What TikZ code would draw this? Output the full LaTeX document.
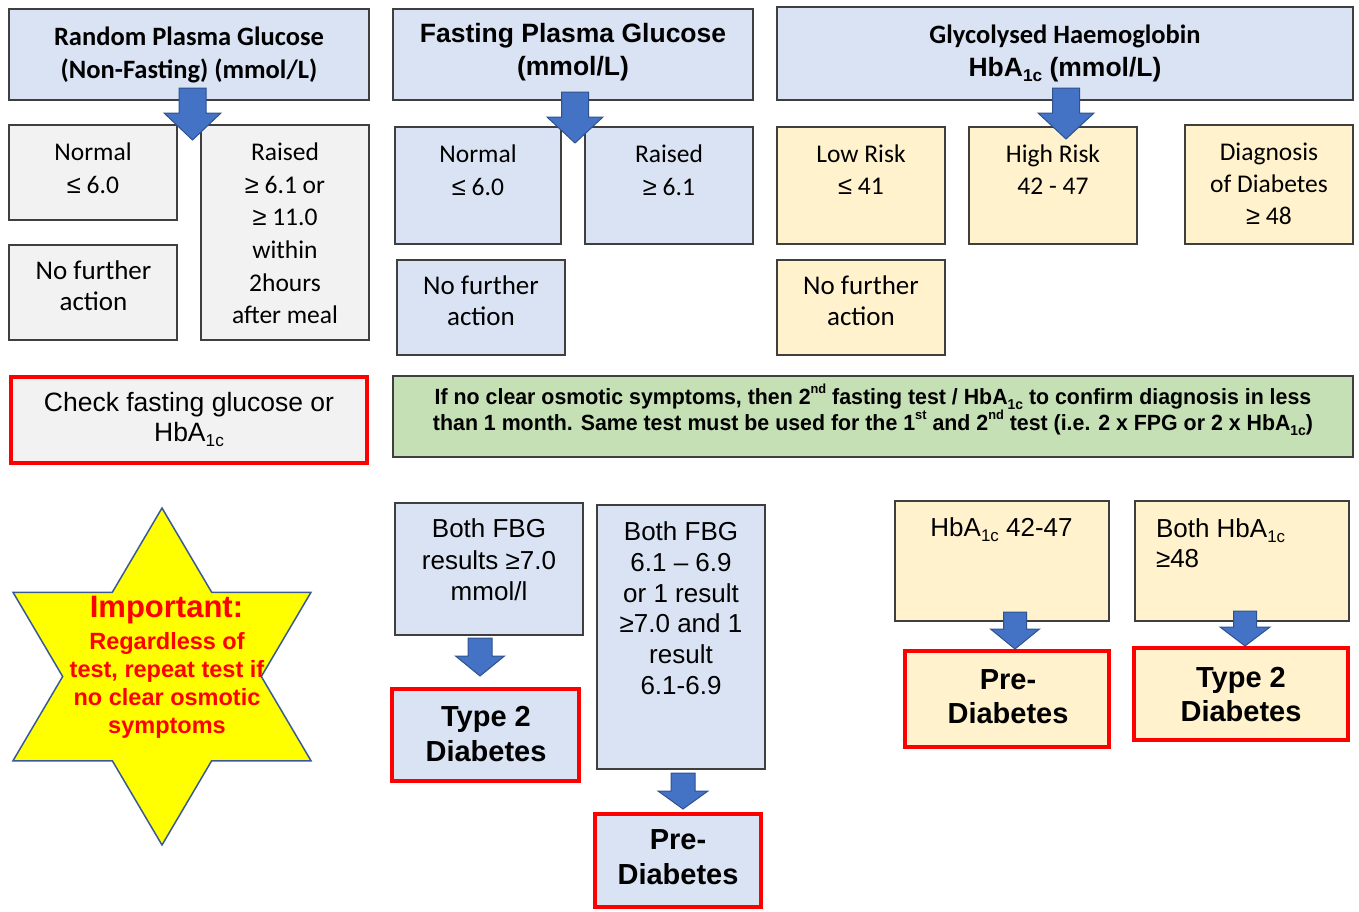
\documentclass[tikz,border=0pt]{standalone}
\usepackage{fontspec}
\setmainfont{Liberation Sans}
\newfontfamily\calib{Carlito}
\newfontfamily\arialf{Liberation Sans}
\newfontfamily\narrowf[FakeStretch=0.97]{Liberation Sans}
\usetikzlibrary{calc}
\definecolor{blueF}{HTML}{DAE3F3}
\definecolor{grayF}{HTML}{F2F2F2}
\definecolor{yelF}{HTML}{FFF2CC}
\definecolor{greenF}{HTML}{C5E0B4}
\definecolor{boxline}{HTML}{3F3F3F}
\definecolor{redB}{HTML}{FF0000}
\definecolor{arrowF}{HTML}{4472C4}
\definecolor{arrowD}{HTML}{2F528F}
\definecolor{starline}{HTML}{3A5A95}
\definecolor{starfill}{HTML}{FFFF00}
\newcommand\subsc[1]{\raisebox{-0.2em}[0pt][0pt]{\scalebox{0.65}{#1}}}
\newcommand\supsc[1]{\raisebox{0.5em}[0pt][0pt]{\scalebox{0.6}{#1}}}
\newcommand\lesym{{\arialf ≤}}
\newcommand\gesym{{\arialf ≥}}
\newcommand\fs[2]{\fontsize{#1}{#2}\selectfont}
\newcommand\bx[6]{\node[#6, minimum width=#4pt, minimum height=#5pt] (#1) at (#2,#3) {};}
\newcommand\blockarrow[5]{%
  \pgfmathsetmacro\arrA{#3/2}%
  \pgfmathsetmacro\arrB{#2-#5}%
  \pgfmathsetmacro\arrC{(#4-#3)/2}%
  \pgfmathsetmacro\arrD{#4/2}%
  \filldraw[barrow] (#1) ++(-\arrA,0) -- ++(#3,0) -- ++(0,\arrB) -- ++(\arrC,0) -- ++(-\arrD,#5) -- ++(-\arrD,-#5) -- ++(\arrC,0) -- cycle;}
\tikzset{
  box/.style={draw=boxline, line width=1.3pt, anchor=north west, inner sep=0pt, outer sep=0pt},
  redbox/.style={draw=redB, line width=4pt, anchor=north west, inner sep=0pt, outer sep=0pt},
  txt/.style={inner sep=0pt, outer sep=0pt, align=center, text=black},
  barrow/.style={fill=arrowF, draw=arrowD, line width=1pt, line join=miter},
}
\begin{document}
\begin{tikzpicture}[x=1pt, y=-1pt]
\useasboundingbox (0,0) rectangle (1359,911);
% ---- boxes ----
\bx{A1}{9}{9}{360}{91}{box, fill=blueF}
\bx{A2}{9}{125}{168}{95}{box, fill=grayF}
\bx{A3}{201}{125}{168}{215}{box, fill=grayF}
\bx{A4}{9}{245}{168}{95}{box, fill=grayF}
\bx{B1}{393}{9}{360}{91}{box, fill=blueF}
\bx{B2}{395}{127}{166}{117}{box, fill=blueF}
\bx{B3}{585}{127}{168}{117}{box, fill=blueF}
\bx{B4}{397}{260}{168}{95}{box, fill=blueF}
\bx{C1}{777}{7}{576}{93}{box, fill=blueF}
\bx{C2}{777}{127}{168}{117}{box, fill=yelF}
\bx{C3}{969}{127}{168}{117}{box, fill=yelF}
\bx{C4}{1185}{125}{168}{119}{box, fill=yelF}
\bx{C5}{777}{260}{168}{95}{box, fill=yelF}
\bx{CHK}{11}{377}{356}{86}{redbox, fill=grayF}
\bx{GRN}{393}{376}{960}{81}{box, fill=greenF}
\bx{D1}{395}{503}{188}{132}{box, fill=blueF}
\bx{D2}{392}{689}{187}{92}{redbox, fill=blueF}
\bx{E1}{597}{505}{168}{264}{box, fill=blueF}
\bx{E2}{595}{814}{166}{93}{redbox, fill=blueF}
\bx{F1}{895}{501}{214}{120}{box, fill=yelF}
\bx{F2}{905}{651}{204}{96}{redbox, fill=yelF}
\bx{G1}{1135}{501}{214}{120}{box, fill=yelF}
\bx{G2}{1134}{648}{214}{92}{redbox, fill=yelF}
% ---- star ----
\filldraw[fill=starfill, draw=starline, line width=1.5pt, line join=miter]
  (162,508) -- (211.67,592.25) -- (311,592.25) -- (261.33,676.5) -- (311,760.75) -- (211.67,760.75)
  -- (162,845) -- (112.33,760.75) -- (13,760.75) -- (62.67,676.5) -- (13,592.25) -- (112.33,592.25) -- cycle;
% ---- block arrows ----
\coordinate (arA) at (192.5,88);
\coordinate (arB) at (575,92);
\coordinate (arC) at (1066,88);
\coordinate (arD) at (480,638);
\coordinate (arE) at (683,773);
\coordinate (arF) at (1015,612);
\coordinate (arG) at (1245,611);
\blockarrow{arA}{52}{27}{57}{27}
\blockarrow{arB}{51}{27}{56}{26}
\blockarrow{arC}{51}{27}{56}{26}
\blockarrow{arD}{38}{24}{49}{20}
\blockarrow{arE}{36}{24}{50}{18}
\blockarrow{arF}{37}{23}{49}{20}
\blockarrow{arG}{35}{23}{50}{19}
% ---- texts ----
\node[txt, font=\calib\bfseries\fs{26.5}{33}] (A1t) at (189,54.5) {Random Plasma Glucose\\(Non-Fasting) (mmol/L)};
\node[txt, font=\calib\fs{25.5}{33}] (A2t) at (93,168.5) {Normal\\\lesym{} 6.0};
\node[txt, font=\calib\fs{25.5}{32.6}] (A3t) at (285,233.5) {Raised\\\gesym{} 6.1 or\hspace*{46pt}\\\gesym{} 11.0\\within\\2hours\\after meal};
\node[txt, font=\calib\fs{27}{30.5}] (A4t) at (93.5,285.5) {No further\\action};
\node[txt, font=\arialf\bfseries\fs{26.5}{33}] (B1t) at (573,52.5) {Fasting Plasma Glucose\\(mmol/L)};
\node[txt, font=\calib\fs{25.5}{33}] (B2t) at (478,170.5) {Normal\\\lesym{} 6.0};
\node[txt, font=\calib\fs{25.5}{33}] (B3t) at (669,170.5) {Raised\\\gesym{} 6.1};
\node[txt, font=\calib\fs{27}{30.5}] (B4t) at (481,300.5) {No further\\action};
\node[txt, font=\arialf\bfseries\fs{26.5}{33}] (C1t) at (1065,53) {{\calib\bfseries Glycolysed Haemoglobin}\\HbA\subsc{1c} (mmol/L)};
\node[txt, font=\calib\fs{25.5}{32}] (C2t) at (861,170) {Low Risk\\\lesym{} 41};
\node[txt, font=\calib\fs{25.5}{32}] (C3t) at (1053,170) {High Risk\\42 - 47};
\node[txt, font=\calib\fs{25.5}{32}] (C4t) at (1269,184) {Diagnosis\\of Diabetes\\\gesym{} 48};
\node[txt, font=\calib\fs{27}{30.5}] (C5t) at (861,300.5) {No further\\action};
\node[txt, font=\arialf\fs{26.5}{30}] (CHKt) at (189,417) {Check fasting glucose or\\HbA\subsc{1c}};
\node[txt, font=\narrowf\bfseries\fs{22}{26}] (GRNt) at (873,412) {If no clear osmotic symptoms, then 2\supsc{nd} fasting test / HbA\subsc{1c} to confirm diagnosis in less\\than 1 month. Same test must be used for the 1\supsc{st} and 2\supsc{nd} test (i.e. 2 x FPG or 2 x HbA\subsc{1c})};
\node[txt, text=redB, font=\arialf\bfseries\fs{31}{34}] (STt1) at (166.5,610) {Important:};
\node[txt, text=redB, font=\arialf\bfseries\fs{23.5}{28}] (STt2) at (167,685) {Regardless of\\test, repeat test if\\no clear osmotic\\symptoms};
\node[txt, font=\arialf\fs{26}{31.5}] (D1t) at (489,560) {Both FBG\\results ≥7.0\\mmol/l};
\node[txt, font=\arialf\bfseries\fs{29}{35}] (D2t) at (486,734) {Type 2\\Diabetes};
\node[txt, font=\arialf\fs{26}{30.7}] (E1t) at (681,608.3) {Both FBG\\6.1 – 6.9\\or 1 result\\≥7.0 and 1\\result\\6.1-6.9};
\node[txt, font=\arialf\bfseries\fs{29}{35}] (E2t) at (678,857.5) {Pre-\\Diabetes};
\node[txt, font=\arialf\fs{26}{30}] (F1t) at (1001.5,527) {HbA\subsc{1c} 42-47};
\node[txt, font=\arialf\bfseries\fs{29}{34}] (F2t) at (1008,697) {Pre-\\Diabetes};
\node[txt, align=left, anchor=west, font=\arialf\fs{26}{30}] (G1t) at (1156,543) {Both HbA\subsc{1c}\\≥48};
\node[txt, font=\arialf\bfseries\fs{29}{34}] (G2t) at (1241,695) {Type 2\\Diabetes};
\end{tikzpicture}
\end{document}
